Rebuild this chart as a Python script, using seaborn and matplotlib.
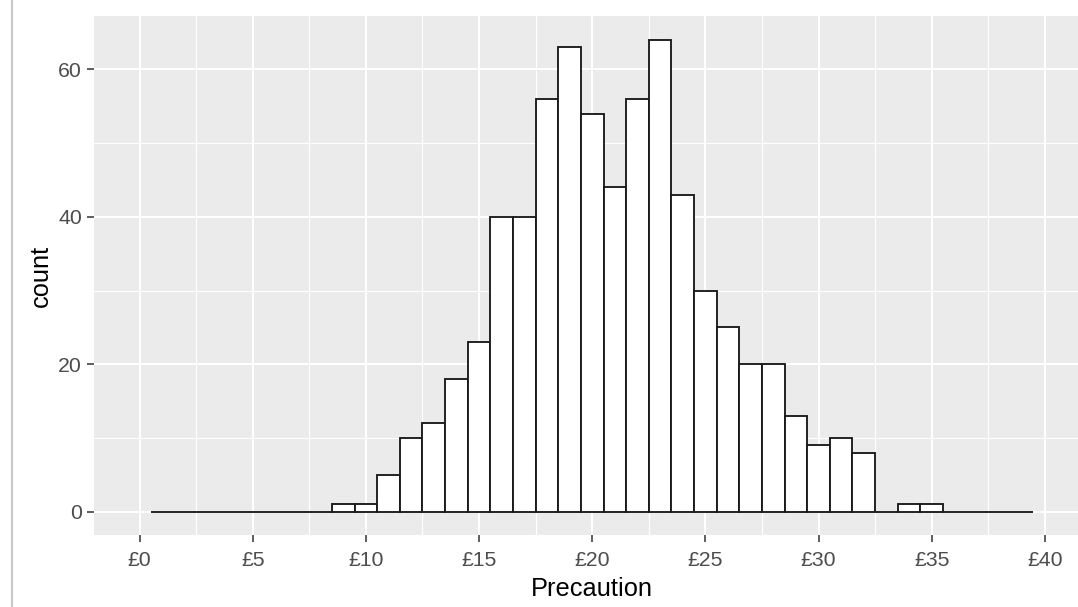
import numpy as np
import pandas as pd
import matplotlib
matplotlib.use("Agg")
import matplotlib.pyplot as plt
import seaborn as sns
from matplotlib.lines import Line2D

# histogram bins (centre of each £1 bin) and counts
precaution = list(range(1, 40))
counts = [0, 0, 0, 0, 0, 0, 0, 0, 1, 1,
          5, 10, 12, 18, 23, 40, 40, 56, 63, 54,
          44, 56, 64, 43, 30, 25, 20, 20, 13, 9,
          10, 8, 0, 1, 1, 0, 0, 0, 0]
x_ticks = [0, 5, 10, 15, 20, 25, 30, 35, 40]
x_tick_labels = ["£0", "£5", "£10", "£15", "£20", "£25", "£30", "£35", "£40"]
y_ticks = [0, 20, 40, 60]

df = pd.DataFrame({"Precaution": precaution, "count": counts})

sns.set_style("darkgrid", {"axes.facecolor": "#EBEBEB", "grid.color": "white"})
plt.rcParams["font.family"] = ["Liberation Sans", "DejaVu Sans"]

fig = plt.figure(figsize=(10.78, 6.07), dpi=100)
ax = fig.add_axes([0.0875, 0.1181, 0.9237, 0.8551])

sns.histplot(data=df, x="Precaution", weights="count", binwidth=1, binrange=(0.5, 39.5),
             color="white", edgecolor="#1a1a1a", linewidth=1.35, alpha=1, ax=ax)

ax.set_xticks(x_ticks)
ax.set_xticklabels(x_tick_labels)
ax.set_yticks(y_ticks)
ax.set_xticks(np.arange(-2.5, 45, 5), minor=True)
ax.set_yticks([10, 30, 50], minor=True)
ax.set_xlim(-2, 42)
ax.set_ylim(-3.2, 67.2)
ax.grid(which="major", color="white", linewidth=1.45)
ax.grid(which="minor", color="white", linewidth=0.8)
ax.set_axisbelow(True)
for s in ax.spines.values():
    s.set_visible(False)

ax.tick_params(which="major", length=5, width=1.1, color="#333333",
               labelcolor="#4D4D4D", labelsize=15.3, pad=6, bottom=True, left=True)
ax.tick_params(axis="y", pad=4)
ax.tick_params(which="minor", length=0)
ax.set_xlabel("Precaution", fontsize=18.3, color="black", labelpad=5)
ax.set_ylabel("count", fontsize=18.3, color="black", labelpad=4)

# thin grey border on the left of the screenshot
fig.add_artist(Line2D([11.7 / 1078, 11.7 / 1078], [0, 1], color="#C8C8C8", linewidth=1.5))

fig.savefig("out.png", dpi=100)
